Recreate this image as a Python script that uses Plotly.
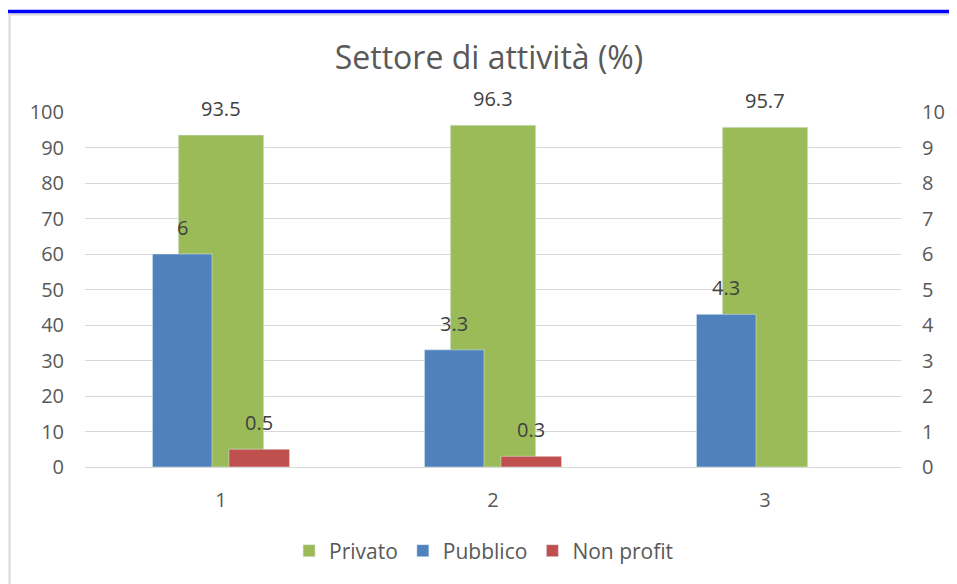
import plotly.graph_objects as go

categories = [1, 2, 3]
tick_labels = ["1", "2", "3"]
privato = [93.5, 96.3, 95.7]
pubblico = [6, 3.3, 4.3]
non_profit = [0.5, 0.3, None]

GREEN = "#9BBB59"
BLUE = "#4F81BD"
RED = "#C0504D"
TXT = "#595959"
LBL = "#404040"
FONT = "Open Sans"

# bar geometry (category units)
g_w, g_off = 0.314, -0.157
b_w, b_off = 0.219, -0.252
r_w, r_off = 0.223, 0.029

fig = go.Figure()
fig.add_trace(go.Bar(x=categories, y=privato, name="Privato", marker_color=GREEN,
                     width=g_w, offset=g_off, yaxis="y"))
fig.add_trace(go.Bar(x=categories, y=pubblico, name="Pubblico", marker_color=BLUE,
                     width=b_w, offset=b_off, yaxis="y2"))
fig.add_trace(go.Bar(x=categories, y=non_profit, name="Non profit", marker_color=RED,
                     width=r_w, offset=r_off, yaxis="y2"))

ann = []
def add_labels(vals, off, w, yref):
    for c, v in zip(categories, vals):
        if v is None:
            continue
        ann.append(dict(x=c + off + w / 2, y=v, xref="x", yref=yref, text=str(v),
                        showarrow=False, yanchor="bottom", yshift=11,
                        font=dict(family=FONT, size=20, color=LBL)))
add_labels(privato, g_off, g_w, "y")
add_labels(pubblico, b_off, b_w, "y2")
add_labels(non_profit, r_off, r_w, "y2")

# the page has an 8px body margin: work in page pixels and convert
PAGE_OFF = 8
W, H = 957 - PAGE_OFF, 584 - PAGE_OFF
L = 85 - PAGE_OFF
R = W - (907 - PAGE_OFF)
T = 112 - PAGE_OFF
B = H - (467 - PAGE_OFF)
plot_h = H - T - B
plot_w = W - L - R

def px_x(p):
    return (p - PAGE_OFF - L) / plot_w

def px_y(p):
    return (H - B - (p - PAGE_OFF)) / plot_h

shapes = [
    dict(type="line", xref="paper", yref="paper", x0=px_x(9), x1=px_x(9),
         y0=px_y(14), y1=px_y(600), line=dict(color="#D9D9D9", width=2)),
    dict(type="line", xref="paper", yref="paper", x0=px_x(8), x1=px_x(970),
         y0=px_y(14.5), y1=px_y(14.5), line=dict(color="#D9D9D9", width=2)),
    dict(type="line", xref="paper", yref="paper", x0=px_x(0), x1=px_x(970),
         y0=px_y(11.5), y1=px_y(11.5), line=dict(color="#0000FF", width=3.5)),
]

fig.update_layout(
    width=W, height=H,
    margin=dict(l=L, r=R, t=T, b=B),
    paper_bgcolor="white", plot_bgcolor="white",
    barmode="overlay",
    showlegend=True,
    title=dict(text="Settore di attività (%)", x=(489 - PAGE_OFF) / W, xanchor="center",
               y=1 - (58 - PAGE_OFF) / H, yanchor="middle", yref="container",
               font=dict(family=FONT, size=32, color=TXT)),
    font=dict(family=FONT, size=20, color=TXT),
    xaxis=dict(range=[0.5, 3.5], tickvals=categories, ticktext=tick_labels,
               showgrid=False, showline=True, linecolor="#D9D9D9", linewidth=1,
               ticks="", ticklabelstandoff=15, tickfont=dict(size=20, color=TXT),
               zeroline=False),
    yaxis=dict(range=[0, 100], dtick=10, showgrid=True, gridcolor="#D9D9D9",
               gridwidth=1, zeroline=False, showline=False, ticks="",
               ticklabelstandoff=20, tickfont=dict(size=20, color=TXT)),
    yaxis2=dict(range=[0, 10], dtick=1, overlaying="y", side="right",
                showgrid=False, zeroline=False, showline=False, ticks="",
                ticklabelstandoff=20, tickfont=dict(size=20, color=TXT)),
    legend=dict(orientation="h", x=px_x(487), xanchor="center", y=px_y(551),
                yanchor="middle", font=dict(family=FONT, size=21, color=TXT),
                traceorder="normal", itemwidth=30),
    annotations=ann,
    shapes=shapes,
)

fig.write_html("out.html")
